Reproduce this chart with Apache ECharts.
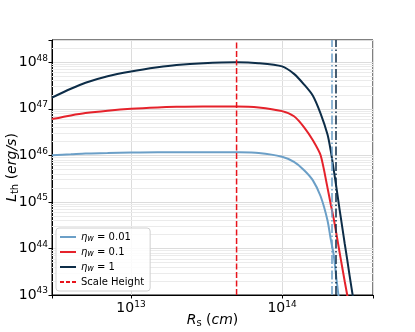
<!DOCTYPE html>
<html>
<head>
<meta charset="utf-8">
<script src="https://cdn.jsdelivr.net/npm/echarts@6/dist/echarts.min.js"></script>
<style>
  html, body { margin: 0; padding: 0; background: #fff; }
  #chart { width: 415px; height: 332px; }
</style>
</head>
<body>
<div id="chart"></div>
<script>
// Radius values (cm)
var radius = [3e12, 4e12, 5e12, 7e12, 1e13, 1.5e13, 2e13, 3e13, 5e13, 7e13, 1e14,
  1.2e14, 1.4e14, 1.6e14, 1.8e14, 2.0e14, 2.1e14, 2.2e14, 2.3e14, 2.4e14, 2.5e14,
  2.6e14, 2.7e14, 2.8e14, 3.0e14];

// Thermal luminosity (erg/s) for each eta_w
var lum_001 = [1.0e46, 1.05e46, 1.10e46, 1.12e46, 1.15e46, 1.17e46, 1.17e46, 1.17e46, 1.16e46, 1.12e46, 9.3e45,
  7.2e45, 4.8e45, 2.9e45, 1.32e45, 4.0e44, 1.58e44, 7.1e43, 2.0e43, 6.3e42, 1.0e42];
var lum_01 = [6.0e46, 7.2e46, 8.1e46, 9.1e46, 1.0e47, 1.07e47, 1.10e47, 1.12e47, 1.12e47, 1.07e47, 8.9e46,
  6.9e46, 4.0e46, 2.1e46, 1.0e46, 2.0e45, 8.9e44, 4.3e44, 1.9e44, 8.5e43, 4.0e43,
  1.95e43, 1.0e43, 5.0e42, 1.26e42];
var lum_1 = [1.74e47, 2.69e47, 3.63e47, 5.01e47, 6.31e47, 7.76e47, 8.71e47, 9.55e47, 1.0e48, 9.55e47, 8.13e47,
  5.62e47, 3.31e47, 1.91e47, 7.9e46, 2.8e46, 1.26e46, 4.8e45, 1.86e45, 7.1e44, 2.95e44,
  1.26e44, 5.75e43, 2.6e43, 6.3e42];

var scale_height = 5e13;
var cutoff_001 = 2.14e14, cutoff_1 = 2.26e14;

var x_min = 3e12, x_max = 4e14;
var y_min = 1e43, y_max = 3e48;

var col_001 = '#6b9fc7', col_01 = '#e5222b', col_1 = '#0d2d48', col_sh = '#e8141c';

function pairs(xs, ys) {
  var out = [];
  for (var i = 0; i < ys.length; i++) out.push([xs[i], ys[i]]);
  return out;
}

// powers of ten -> 10^n labels
function powLabel(v) {
  var e = Math.log10(v);
  if (Math.abs(e - Math.round(e)) < 1e-6) return '10{s|' + Math.round(e) + '}';
  return '';
}

// matplotlib-like minor grid lines on y (2..9 x 10^n)
var minorY = [];
for (var n = 43; n <= 48; n++) {
  for (var k = 2; k <= 9; k++) {
    var v = k * Math.pow(10, n);
    if (v < y_max) minorY.push({ yAxis: v });
  }
}

var legendNames = {
  'eta001': '{i|η}{sub|w}{t| = 0.01}',
  'eta01': '{i|η}{sub|w}{t| = 0.1}',
  'eta1': '{i|η}{sub|w}{t| = 1}',
  'Scale Height': '{t|Scale Height}'
};

var solidIcon = 'path://M0,0h16v2h-16z';
var dashIcon = 'path://M0,0h4v2h-4zM6,0h4v2h-4zM12,0h4v2h-4z';

var chart = echarts.init(document.getElementById('chart'));

var option = {
  backgroundColor: '#fff',
  animation: false,
  textStyle: { fontFamily: 'DejaVu Sans' },
  grid: {
    left: 52, right: 42, top: 40, bottom: 37,
    containLabel: false,
    outerBoundsMode: 'none',
    show: true, borderColor: '#000', borderWidth: 1
  },
  legend: {
    orient: 'vertical',
    left: 56, top: 228,
    data: [
      { name: 'eta001', icon: solidIcon },
      { name: 'eta01', icon: solidIcon },
      { name: 'eta1', icon: solidIcon },
      { name: 'Scale Height', icon: dashIcon }
    ],
    itemWidth: 16, itemHeight: 2,
    itemGap: 3,
    padding: [3, 6, 3, 4],
    borderColor: '#d0d0d0', borderWidth: 1, borderRadius: 3,
    backgroundColor: 'rgba(255,255,255,0.85)',
    formatter: function (name) { return legendNames[name]; },
    textStyle: {
      fontSize: 10, color: '#000', lineHeight: 12,
      rich: {
        i: { fontStyle: 'italic', fontSize: 10, fontFamily: 'DejaVu Sans' },
        sub: { fontStyle: 'italic', fontSize: 8, padding: [4, 0, 0, 0], fontFamily: 'DejaVu Sans' },
        t: { fontSize: 10, fontFamily: 'DejaVu Sans' }
      }
    }
  },
  xAxis: {
    type: 'log', logBase: 10,
    min: x_min, max: x_max,
    name: '{i|R}{sub|s}{t| (}{i|cm}{t|)}',
    nameLocation: 'middle', nameGap: 17,
    nameMoveOverlap: false,
    nameTextStyle: {
      color: '#000',
      rich: {
        i: { fontStyle: 'italic', fontSize: 14, fontFamily: 'DejaVu Sans' },
        sub: { fontSize: 10, padding: [6, 0, 0, 0], fontFamily: 'DejaVu Sans' },
        t: { fontSize: 14, fontFamily: 'DejaVu Sans' }
      }
    },
    axisLine: { show: true, lineStyle: { color: '#000', width: 1 } },
    axisTick: { show: true, length: 3.5, lineStyle: { color: '#000', width: 1 } },
    axisLabel: {
      margin: 5, color: '#000',
      formatter: powLabel,
      rich: {
        s: { fontSize: 9, padding: [0, 0, 8, 0], fontFamily: 'DejaVu Sans' }
      },
      fontSize: 14
    },
    splitLine: { show: true, lineStyle: { color: '#dcdcdc', width: 1 } }
  },
  yAxis: {
    type: 'log', logBase: 10,
    min: y_min, max: y_max,
    name: '{i|L}{sub|th}{t| (}{i|erg/s}{t|)}',
    nameLocation: 'middle', nameGap: 32, nameRotate: 90,
    nameMoveOverlap: false,
    nameTextStyle: {
      color: '#000',
      rich: {
        i: { fontStyle: 'italic', fontSize: 14, fontFamily: 'DejaVu Sans' },
        sub: { fontSize: 10, padding: [6, 0, 0, 0], fontFamily: 'DejaVu Sans' },
        t: { fontSize: 14, fontFamily: 'DejaVu Sans' }
      }
    },
    axisLine: { show: true, lineStyle: { color: '#000', width: 1 } },
    axisTick: { show: true, length: 3.5, lineStyle: { color: '#000', width: 1 } },
    axisLabel: {
      margin: 4, color: '#000',
      formatter: powLabel,
      rich: {
        s: { fontSize: 9, padding: [0, 0, 8, 0], fontFamily: 'DejaVu Sans' }
      },
      fontSize: 14
    },
    splitLine: { show: true, lineStyle: { color: '#dcdcdc', width: 1 } }
  },
  series: [
    {
      name: 'minor-grid',
      type: 'line',
      data: [],
      silent: true,
      z: 1,
      markLine: {
        silent: true,
        z: 1,
        symbol: ['none', 'none'],
        label: { show: false },
        lineStyle: { color: '#ebebeb', width: 1, type: 'solid' },
        data: minorY
      }
    },
    {
      name: 'eta001',
      type: 'line',
      data: pairs(radius, lum_001),
      symbol: 'none',
      smooth: 0.25,
      color: col_001,
      lineStyle: { color: col_001, width: 2 },
      z: 3,
      markLine: {
        silent: true,
        z: 6,
        symbol: ['none', 'none'],
        label: { show: false },
        lineStyle: { color: col_001, width: 1.5, type: [9, 2.5, 1.5, 2.5] },
        data: [{ xAxis: cutoff_001 }]
      }
    },
    {
      name: 'eta01',
      type: 'line',
      data: pairs(radius, lum_01),
      symbol: 'none',
      smooth: 0.25,
      color: col_01,
      lineStyle: { color: col_01, width: 2 },
      z: 3
    },
    {
      name: 'eta1',
      type: 'line',
      data: pairs(radius, lum_1),
      symbol: 'none',
      smooth: 0.25,
      color: col_1,
      lineStyle: { color: col_1, width: 2 },
      z: 3,
      markLine: {
        silent: true,
        z: 6,
        symbol: ['none', 'none'],
        label: { show: false },
        lineStyle: { color: col_1, width: 1.5, type: [9, 2.5, 1.5, 2.5] },
        data: [{ xAxis: cutoff_1 }]
      }
    },
    {
      name: 'Scale Height',
      type: 'line',
      data: [[scale_height, y_min], [scale_height, y_max]],
      symbol: 'none',
      color: col_sh,
      lineStyle: { color: col_sh, width: 1.5, type: [6, 2.5] },
      z: 4
    }
  ]
};

chart.setOption(option);
</script>
</body>
</html>
